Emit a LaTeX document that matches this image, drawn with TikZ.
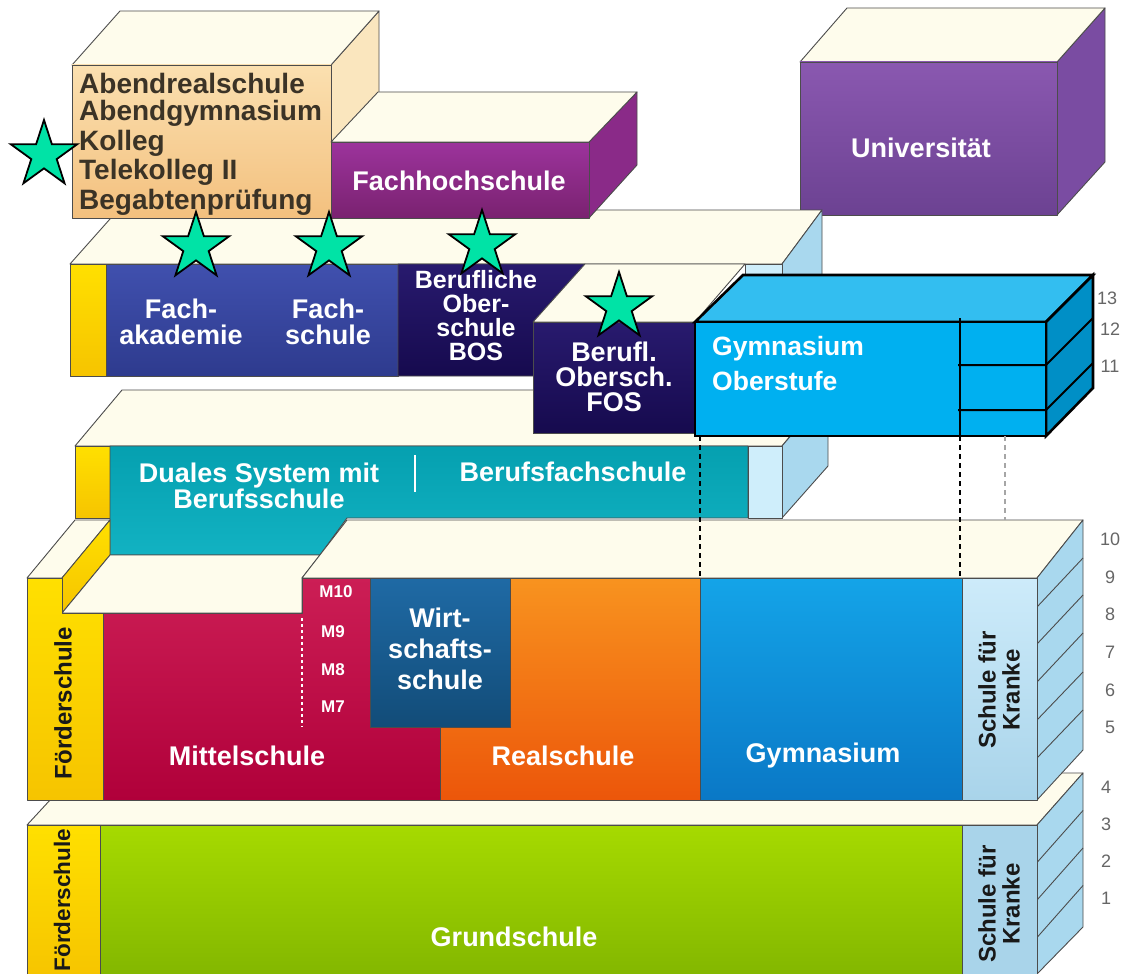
\documentclass[tikz,border=0pt]{standalone}
\usepackage{fontspec}
\setmainfont{Liberation Sans}
\usetikzlibrary{shapes.geometric}
\definecolor{cream}{HTML}{FEFCEC}
\definecolor{abtop}{HTML}{FBE0B0}
\definecolor{abbot}{HTML}{F3C07E}
\definecolor{abside}{HTML}{FAE6BE}
\definecolor{abtxt}{HTML}{3B3326}
\definecolor{fhA}{HTML}{9C339C}
\definecolor{fhB}{HTML}{7A2270}
\definecolor{fhside}{HTML}{8A2A88}
\definecolor{unA}{HTML}{8A58B0}
\definecolor{unB}{HTML}{6C4292}
\definecolor{unside}{HTML}{7A4CA2}
\definecolor{blA}{HTML}{4050AE}
\definecolor{blB}{HTML}{2E3B8E}
\definecolor{nvA}{HTML}{281A6E}
\definecolor{nvB}{HTML}{160A4E}
\definecolor{yelA}{HTML}{FFE000}
\definecolor{yelB}{HTML}{F6C400}
\definecolor{tlA}{HTML}{05A0B0}
\definecolor{tlB}{HTML}{12B2C2}
\definecolor{lbfront}{HTML}{CFEEFB}
\definecolor{lbside}{HTML}{A9D8EE}
\definecolor{rdA}{HTML}{CC1E55}
\definecolor{rdB}{HTML}{B0003A}
\definecolor{wsA}{HTML}{1F6AA5}
\definecolor{wsB}{HTML}{124C78}
\definecolor{orA}{HTML}{F8931F}
\definecolor{orB}{HTML}{EC560A}
\definecolor{gyA}{HTML}{14A4E8}
\definecolor{gyB}{HTML}{0A78C6}
\definecolor{skA}{HTML}{CDEBFA}
\definecolor{skB}{HTML}{A9D4EA}
\definecolor{grA}{HTML}{A6DA00}
\definecolor{grB}{HTML}{82B600}
\definecolor{obfront}{HTML}{00B0F0}
\definecolor{obtop}{HTML}{33BEF0}
\definecolor{obside}{HTML}{008FC6}
\definecolor{stargr}{HTML}{00E3A6}
\begin{document}
\begin{tikzpicture}[x=1pt,y=-1pt,
  face/.style={draw=black!70, line width=0.9pt, line join=round},
  cream/.style={face, fill=cream},
  obl/.style={draw=black, line width=2.6pt, line join=miter},
  wt/.style={text=white, font=\fontsize{27}{26}\selectfont\bfseries, align=center, inner sep=0pt},
  dk/.style={text=abtxt, font=\fontsize{28}{29}\selectfont\bfseries, anchor=base west, inner sep=0pt},
  vt/.style={text=black!90, font=\fontsize{24}{24}\selectfont\bfseries, align=center, rotate=90, inner sep=0pt},
  num/.style={text=black!60, font=\fontsize{18}{18}\selectfont, inner sep=0pt},
  mlab/.style={text=white, font=\fontsize{17}{17}\selectfont\bfseries, inner sep=0pt},
  starn/.style={star, star points=5, star point ratio=2.618, minimum size=70pt, inner sep=0pt, fill=stargr, draw=black, line width=1.8pt},
  dsh/.style={draw=black, line width=1.8pt, dash pattern=on 5pt off 4pt}
]
\fill[white] (0,0) rectangle (1133,974);
\useasboundingbox (0,0) rectangle (1133,974);

% ---------- Universitaet
\path[face, fill=unside] (1057,62) -- (1105,8) -- (1105,162) -- (1057,215) -- cycle;
\path[cream] (800,62) -- (847,8) -- (1105,8) -- (1057,62) -- cycle;
\path[face, top color=unA, bottom color=unB] (800,62) rectangle (1057,215);
\node[wt] (uni) at (921,148) {Universität};

% ---------- Row 2
\path[cream] (70,264) -- (118,210) -- (822,210) -- (782,264) -- cycle;
\path[face, fill=lbside] (782,264) -- (822,210) -- (822,322) -- (782,376) -- cycle;
\path[face, fill=lbfront] (745,264) rectangle (782,376);
\path[face, top color=yelA, bottom color=yelB] (70,264) rectangle (106,376);
\path[face, top color=blA, bottom color=blB] (106,264) rectangle (398,376);
\path[face, top color=nvA, bottom color=nvB] (398,264) -- (585,264) -- (535,322) -- (535,376) -- (398,376) -- cycle;
\node[wt] (fak) at (181,322) {Fach-\\akademie};
\node[wt] (fsch) at (328,322) {Fach-\\schule};
\node[wt, font=\fontsize{25}{24}\selectfont\bfseries] (bos) at (476,316) {Berufliche\\Ober-\\schule\\BOS};

% ---------- Abend box
\path[face, fill=abside] (331,65) -- (379,11) -- (379,165) -- (331,218) -- cycle;
\path[cream] (72,65) -- (120,11) -- (379,11) -- (331,65) -- cycle;
\path[face, top color=abtop, bottom color=abbot] (72,65) rectangle (331,218);
\node[dk] (ab1) at (79,93) {Abendrealschule};
\node[dk] (ab2) at (79,121) {Abendgymnasium};
\node[dk] (ab3) at (79,150) {Kolleg};
\node[dk] (ab4) at (79,179) {Telekolleg II};
\node[dk] (ab5) at (79,209) {Begabtenprüfung};

% ---------- Fachhochschule
\path[face, fill=fhside] (589,142) -- (637,92) -- (637,165) -- (589,218) -- cycle;
\path[cream] (331,142) -- (378,92) -- (637,92) -- (589,142) -- cycle;
\path[face, top color=fhA, bottom color=fhB] (331,142) rectangle (589,218);
\node[wt] (fh) at (459,181) {Fachhochschule};

% ---------- Row 3
\path[cream] (75,446) -- (122,390) -- (828,390) -- (782,446) -- cycle;
\path[face, fill=lbside] (782,446) -- (828,392) -- (828,466) -- (782,518) -- cycle;
\path[face, fill=lbfront] (748,446) rectangle (782,518);
\path[face, top color=yelA, bottom color=yelB] (75,446) rectangle (110,518);
\path[face, top color=tlA, bottom color=tlB] (110,446) -- (748,446) -- (748,518) -- (347,518) -- (320,555) -- (110,555) -- cycle;
\draw[white, line width=2pt] (415,455) -- (415,492);
\node[wt] (dual) at (259,486) {Duales System mit\\Berufsschule};
\node[wt] (bfs) at (573,472) {Berufsfachschule};

% ---------- FOS
\path[cream] (533,322) -- (585,264) -- (745,264) -- (695,322) -- cycle;
\path[face, top color=nvA, bottom color=nvB] (533,322) rectangle (695,433);
\node[wt, font=\fontsize{27}{25}\selectfont\bfseries] (fos) at (614,377) {Berufl.\\Obersch.\\FOS};

% ---------- Gymnasium Oberstufe
\path[obl, fill=obtop] (695,322) -- (743,275) -- (1093,275) -- (1046,322) -- cycle;
\path[obl, fill=obside] (1046,322) -- (1093,275) -- (1093,388) -- (1046,436) -- cycle;
\path[obl, fill=obfront] (695,322) rectangle (1046,436);
\draw[obl, line width=2pt] (960,318) -- (960,436);
\draw[obl, line width=2pt] (958,365) -- (1046,365) -- (1093,318);
\draw[obl, line width=2pt] (958,410) -- (1046,410) -- (1093,363);
\node[text=white, font=\fontsize{26.5}{26}\selectfont\bfseries, anchor=west, inner sep=0pt] (ob1) at (712,349) {Gymnasium};
\node[text=white, font=\fontsize{26.5}{26}\selectfont\bfseries, anchor=west, inner sep=0pt] (ob2) at (712,381) {Oberstufe};
\node[num] (n13) at (1107,298) {13};
\node[num] (n12) at (1110,329) {12};
\node[num] (n11) at (1110,366) {11};

% ---------- Row 5 (Grundschule)
\path[cream] (27,825) -- (75,773) -- (1083,773) -- (1037,825) -- cycle;
\path[face, fill=lbside] (1037,825) -- (1083,773) -- (1083,927) -- (1037,974) -- cycle;
\foreach \k in {1,2,3} {\draw[face] (1037,825+\k*37.5) -- (1083,773+\k*37.5);}
\path[face, top color=yelA, bottom color=yelB] (27,825) rectangle (100,980);
\path[face, top color=grA, bottom color=grB] (100,825) rectangle (962,980);
\path[face, top color=skB, bottom color=skB] (962,825) rectangle (1037,980);
\node[vt, font=\fontsize{22.5}{24}\selectfont\bfseries] (fs2) at (62,900) {Förderschule};
\node[vt] (sk2) at (999,904) {Schule für\\Kranke};
\node[wt] (gs) at (514,937) {Grundschule};
\node[num] (n4) at (1106,787) {4};
\node[num] (n3) at (1106,824) {3};
\node[num] (n2) at (1106,861) {2};
\node[num] (n1) at (1106,898) {1};

% ---------- Row 4
\path[cream] (27,578) -- (75,520) -- (110,520) -- (62,578) -- cycle;
\path[face, top color=yelA, bottom color=yelB] (62,578) -- (110,520) -- (110,555) -- (62,613) -- cycle;
\path[cream] (62,613) -- (110,555) -- (320,555) -- (302,578) -- (302,613) -- cycle;
\path[cream] (302,578) -- (347,520) -- (1083,520) -- (1037,578) -- cycle;
\path[face, fill=lbside] (1037,578) -- (1083,520) -- (1083,750) -- (1037,800) -- cycle;
\draw[face] (1037,607) -- (1083,558);
\draw[face] (1037,644) -- (1083,595);
\draw[face] (1037,682) -- (1083,633);
\draw[face] (1037,720) -- (1083,672);
\draw[face] (1037,758) -- (1083,710);
\path[face, top color=yelA, bottom color=yelB] (27,578) -- (62,578) -- (62,613) -- (103,613) -- (103,800) -- (27,800) -- cycle;
\path[face, top color=rdA, bottom color=rdB] (103,613) -- (302,613) -- (302,578) -- (370,578) -- (370,727) -- (440,727) -- (440,800) -- (103,800) -- cycle;
\path[face, top color=orA, bottom color=orB] (510,578) -- (700,578) -- (700,800) -- (440,800) -- (440,727) -- (510,727) -- cycle;
\path[face, top color=wsA, bottom color=wsB] (370,578) rectangle (510,727);
\path[face, top color=gyA, bottom color=gyB] (700,578) rectangle (962,800);
\path[face, top color=skA, bottom color=skB] (962,578) rectangle (1037,800);
\draw[white, line width=2pt, dash pattern=on 3pt off 3pt] (302,618) -- (302,727);
\node[mlab] (m10) at (336,592) {M10};
\node[mlab] (m9) at (333,632) {M9};
\node[mlab] (m8) at (333,670) {M8};
\node[mlab] (m7) at (333,707) {M7};
\node[wt, font=\fontsize{27}{31}\selectfont\bfseries] (ws) at (440,649) {Wirt-\\schafts-\\schule};
\node[wt] (ms) at (247,756) {Mittelschule};
\node[wt] (rs) at (563,756) {Realschule};
\node[wt] (gym) at (823,756) {Gymnasium};
\node[vt] (fs1) at (63,703) {Förderschule};
\node[vt] (sk1) at (999,690) {Schule für\\Kranke};
\node[num] (n10) at (1110,539) {10};
\node[num] (n9) at (1110,577) {9};
\node[num] (n8) at (1110,614) {8};
\node[num] (n7) at (1110,652) {7};
\node[num] (n6) at (1110,690) {6};
\node[num] (n5) at (1110,727) {5};

% ---------- dashed guides
\coordinate (d1a) at (700,436); \coordinate (d1b) at (700,578);
\coordinate (d2a) at (960,436); \coordinate (d2b) at (960,578);
\coordinate (d3a) at (1005,436); \coordinate (d3b) at (1005,520);
\draw[dsh] (d1a) -- (d1b);
\draw[dsh] (d2a) -- (d2b);
\draw[dsh, draw=black!35, line width=1.2pt] (d3a) -- (d3b);

% ---------- stars
\node[starn] (s1) at (44,155) {};
\node[starn] (s2) at (196,247) {};
\node[starn] (s3) at (329,247) {};
\node[starn] (s4) at (482,245) {};
\node[starn] (s5) at (619,307) {};
\end{tikzpicture}
\end{document}
